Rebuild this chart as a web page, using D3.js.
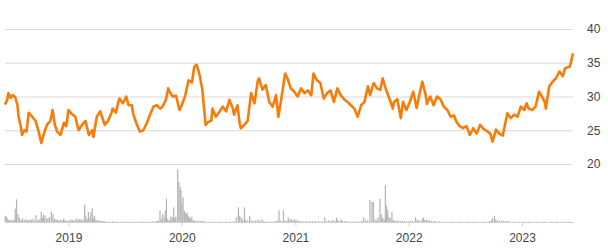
<!DOCTYPE html>
<html>
<head>
<meta charset="utf-8">
<script src="https://cdn.jsdelivr.net/npm/d3@7"></script>
<style>
  html, body { margin: 0; padding: 0; background: #fff; }
  #chart { width: 608px; height: 249px; }
  .axis text { font-family: "Liberation Sans", Arial, sans-serif; font-size: 12px; fill: #444; }
</style>
</head>
<body>
<div id="chart"></div>
<script>
// price series, dates as decimal years
const priceDates = [
  2018.44, 2018.46, 2018.47, 2018.49, 2018.51, 2018.53, 2018.55, 2018.56, 2018.58, 2018.59,
  2018.61, 2018.63, 2018.65, 2018.68, 2018.71, 2018.74, 2018.76, 2018.78, 2018.81, 2018.84,
  2018.86, 2018.88, 2018.90, 2018.93, 2018.96, 2018.98, 2019.00, 2019.03, 2019.06, 2019.09,
  2019.12, 2019.15, 2019.18, 2019.21, 2019.22, 2019.25, 2019.28, 2019.31, 2019.32, 2019.35,
  2019.38, 2019.39, 2019.42, 2019.44, 2019.45, 2019.48, 2019.51, 2019.53, 2019.56, 2019.57,
  2019.60, 2019.63, 2019.66, 2019.69, 2019.72, 2019.75, 2019.78, 2019.81, 2019.83, 2019.86,
  2019.88, 2019.89, 2019.92, 2019.95, 2019.98, 2020.00, 2020.03, 2020.06, 2020.09, 2020.11,
  2020.13, 2020.14, 2020.16, 2020.17, 2020.18, 2020.21, 2020.23, 2020.26, 2020.27, 2020.30,
  2020.33, 2020.36, 2020.39, 2020.42, 2020.45, 2020.46, 2020.49, 2020.51, 2020.52, 2020.55,
  2020.58, 2020.61, 2020.64, 2020.67, 2020.68, 2020.71, 2020.74, 2020.77, 2020.80, 2020.83,
  2020.85, 2020.87, 2020.91, 2020.93, 2020.96, 2020.99, 2021.02, 2021.05, 2021.08, 2021.11,
  2021.14, 2021.16, 2021.19, 2021.22, 2021.25, 2021.28, 2021.31, 2021.34, 2021.37, 2021.40,
  2021.43, 2021.46, 2021.49, 2021.52, 2021.55, 2021.58, 2021.61, 2021.64, 2021.66, 2021.69,
  2021.72, 2021.75, 2021.77, 2021.80, 2021.83, 2021.86, 2021.87, 2021.90, 2021.93, 2021.95,
  2021.98, 2022.01, 2022.04, 2022.07, 2022.10, 2022.12, 2022.15, 2022.16, 2022.19, 2022.22,
  2022.25, 2022.28, 2022.31, 2022.34, 2022.37, 2022.40, 2022.42, 2022.45, 2022.48, 2022.51,
  2022.54, 2022.57, 2022.60, 2022.63, 2022.66, 2022.68, 2022.72, 2022.74, 2022.77, 2022.80,
  2022.83, 2022.85, 2022.87, 2022.90, 2022.93, 2022.96, 2022.99, 2023.02, 2023.04, 2023.06,
  2023.09, 2023.12, 2023.15, 2023.17, 2023.20, 2023.21, 2023.24, 2023.27, 2023.30, 2023.33,
  2023.36, 2023.38, 2023.42, 2023.43, 2023.45
];
const priceValues = [
  28.8, 29.5, 30.5, 29.8, 30.2, 29.9, 28.7, 27.0, 25.5, 24.3,
  25.0, 24.8, 27.6, 27.0, 26.4, 24.6, 23.1, 24.3, 25.8, 26.4,
  28.0, 25.8, 24.8, 24.3, 26.1, 25.6, 28.0, 27.4, 27.0, 25.0,
  25.8, 26.4, 24.3, 25.0, 24.0, 27.0, 27.8, 26.3, 25.8, 26.4,
  27.6, 28.2, 27.6, 29.2, 29.7, 29.0, 30.0, 28.7, 28.7, 27.5,
  26.0, 24.8, 25.0, 26.0, 27.3, 28.5, 28.7, 28.2, 28.5, 29.5,
  31.2, 30.8, 30.0, 30.1, 28.0, 28.7, 30.1, 32.4, 32.1, 34.4,
  34.7, 34.2, 33.0, 32.0, 31.2, 25.8, 26.2, 26.4, 28.2, 27.0,
  27.7, 28.5, 27.8, 29.5, 28.2, 27.3, 28.7, 26.0, 25.3, 25.8,
  26.4, 30.5, 29.0, 32.4, 32.7, 31.0, 31.7, 29.2, 28.5, 30.2,
  27.0, 29.0, 33.4, 32.7, 31.2, 30.7, 30.0, 31.2, 30.5, 30.9,
  30.2, 33.4, 32.4, 32.0, 29.7, 30.5, 30.9, 29.2, 31.2, 30.2,
  29.6, 29.2, 28.7, 28.2, 27.0, 28.7, 29.2, 31.5, 30.2, 32.0,
  31.2, 31.0, 32.7, 31.0, 29.7, 28.2, 29.2, 29.6, 26.8, 29.2,
  28.0, 29.2, 30.7, 28.3, 30.7, 32.2, 30.2, 28.9, 30.0, 28.7,
  30.0, 29.6, 28.5, 28.0, 27.0, 27.2, 26.3, 25.6, 25.3, 25.6,
  24.3, 25.3, 24.5, 25.8, 25.2, 25.0, 24.5, 23.3, 25.1, 24.5,
  24.2, 25.8, 27.5, 26.8, 27.3, 27.0, 28.5, 28.0, 29.0, 28.2,
  28.0, 28.5, 30.7, 30.2, 29.2, 28.2, 31.5, 32.2, 32.7, 33.7,
  33.0, 34.2, 34.4, 34.9, 36.4
];

// volume bars, dates as decimal years
const volumeDates = [
  2018.441, 2018.450, 2018.458, 2018.467, 2018.480, 2018.494, 2018.507, 2018.520, 2018.531, 2018.542,
  2018.555, 2018.568, 2018.582, 2018.595, 2018.608, 2018.621, 2018.635, 2018.648, 2018.661, 2018.674,
  2018.687, 2018.701, 2018.714, 2018.727, 2018.740, 2018.749, 2018.760, 2018.771, 2018.780, 2018.793,
  2018.806, 2018.819, 2018.833, 2018.849, 2018.864, 2018.877, 2018.890, 2018.903, 2018.916, 2018.930,
  2018.943, 2018.956, 2018.969, 2018.982, 2018.996, 2019.009, 2019.022, 2019.035, 2019.048, 2019.062,
  2019.075, 2019.088, 2019.101, 2019.114, 2019.128, 2019.143, 2019.154, 2019.167, 2019.176, 2019.189,
  2019.198, 2019.210, 2019.220, 2019.229, 2019.242, 2019.255, 2019.269, 2019.282, 2019.295, 2019.313,
  2019.330, 2019.365, 2019.392, 2019.427, 2019.471, 2019.498, 2019.524, 2019.559, 2019.594, 2019.630,
  2019.656, 2019.691, 2019.718, 2019.744, 2019.762, 2019.779, 2019.793, 2019.808, 2019.819, 2019.832,
  2019.845, 2019.854, 2019.865, 2019.876, 2019.889, 2019.903, 2019.916, 2019.929, 2019.938, 2019.948,
  2019.964, 2019.975, 2019.985, 2019.993, 2020.002, 2020.011, 2020.022, 2020.030, 2020.039, 2020.048,
  2020.057, 2020.067, 2020.074, 2020.088, 2020.101, 2020.114, 2020.132, 2020.149, 2020.167, 2020.185,
  2020.202, 2020.246, 2020.290, 2020.334, 2020.387, 2020.422, 2020.458, 2020.480, 2020.499, 2020.510,
  2020.524, 2020.537, 2020.552, 2020.563, 2020.581, 2020.598, 2020.616, 2020.634, 2020.651, 2020.669,
  2020.686, 2020.704, 2020.722, 2020.739, 2020.775, 2020.810, 2020.827, 2020.845, 2020.856, 2020.871,
  2020.895, 2020.907, 2020.924, 2020.937, 2020.951, 2020.964, 2020.977, 2020.990, 2021.004, 2021.017,
  2021.030, 2021.048, 2021.074, 2021.100, 2021.127, 2021.153, 2021.180, 2021.206, 2021.233, 2021.259,
  2021.277, 2021.294, 2021.312, 2021.329, 2021.347, 2021.362, 2021.373, 2021.391, 2021.406, 2021.417,
  2021.435, 2021.453, 2021.479, 2021.506, 2021.532, 2021.558, 2021.585, 2021.602, 2021.620, 2021.638,
  2021.658, 2021.676, 2021.688, 2021.702, 2021.717, 2021.728, 2021.746, 2021.758, 2021.770, 2021.783,
  2021.794, 2021.805, 2021.816, 2021.827, 2021.836, 2021.852, 2021.864, 2021.875, 2021.893, 2021.911,
  2021.928, 2021.946, 2021.963, 2021.981, 2021.999, 2022.016, 2022.034, 2022.060, 2022.074, 2022.087,
  2022.104, 2022.119, 2022.131, 2022.144, 2022.157, 2022.170, 2022.184, 2022.201, 2022.219, 2022.236,
  2022.272, 2022.325, 2022.386, 2022.448, 2022.518, 2022.580, 2022.668, 2022.712, 2022.730, 2022.738,
  2022.756, 2022.769, 2022.783, 2022.800, 2022.818, 2022.835, 2022.853, 2022.871, 2022.888, 2022.932,
  2022.976, 2023.020, 2023.064, 2023.135, 2023.196, 2023.258, 2023.311, 2023.346, 2023.381, 2023.417
];
const volumeValues = [
  10, 12, 8, 5, 3, 4, 3, 5, 25, 43,
  15, 8, 4, 7, 3, 5, 4, 3, 5, 4,
  6, 3, 13, 3, 4, 6, 19, 8, 14, 12,
  6, 8, 9, 20, 15, 6, 5, 4, 3, 4,
  3, 6, 4, 2, 3, 2, 5, 4, 3, 5,
  6, 4, 6, 4, 5, 33, 12, 5, 19, 8,
  19, 26, 6, 12, 5, 3, 3, 2, 2, 2,
  1, 1, 1.5, 1, 1, 1.5, 1, 1, 1, 1,
  1, 1, 1, 1.5, 1, 2, 3, 22, 6, 15,
  9, 22, 44, 6, 4, 10, 9, 28, 8, 10,
  100, 76, 67, 60, 35, 47, 22, 19, 15, 17,
  12, 6, 9, 10, 4, 3, 2, 3, 2, 3,
  1, 1, 1, 1, 1, 1, 2, 9, 28, 12,
  8, 4, 28, 4, 3, 12, 3, 2, 3, 4,
  3, 5, 2, 1, 1, 1, 2, 3, 22, 3,
  22, 3, 2, 8, 4, 6, 3, 5, 4, 3,
  2, 2, 1.5, 2, 1.5, 2, 2, 1.5, 2, 9,
  2, 3, 2, 4, 2, 8, 4, 2, 5, 2,
  2, 1, 1, 1, 1, 1.5, 2, 9, 4, 3,
  42, 38, 38, 5, 3, 9, 44, 15, 8, 5,
  70, 31, 22, 9, 8, 19, 4, 3, 3, 3,
  2, 2, 2, 1.5, 1.5, 2, 2, 9, 4, 3,
  2, 6, 9, 4, 4, 3, 3, 2, 2, 1.5,
  1.5, 1, 1, 1, 1, 1, 1, 2, 3, 7,
  12, 5, 3, 3, 2, 3, 2, 2, 1, 1,
  1, 1, 1, 1, 1, 1, 1, 1, 1, 1
];

const priceTicks = [20, 25, 30, 35, 40];
const yearTicks = [2019, 2020, 2021, 2022, 2023];

const decToDate = (d) => {
  const y = Math.floor(d);
  const a = Date.UTC(y, 0, 1), b = Date.UTC(y + 1, 0, 1);
  return new Date(a + (d - y) * (b - a));
};

(() => {
  const W = 608, H = 249;
  const m = { left: 5, right: 35, top: 29, bottom: 27 };
  const plotR = W - m.right;
  const base = H - m.bottom;

  const svg = d3.select("#chart").append("svg").attr("width", W).attr("height", H);

  const price = priceDates.map((d, i) => ({ date: decToDate(d), v: priceValues[i] }));
  const vol = volumeDates.map((d, i) => ({ date: decToDate(d), v: volumeValues[i] }));

  const x = d3.scaleUtc()
    .domain(d3.extent(price, d => d.date))
    .range([m.left, plotR]);
  const y = d3.scaleLinear().domain([20, 40]).range([164, m.top]);
  const yv = d3.scaleLinear().domain([0, 110]).range([base, 164]);

  // price gridlines + right labels
  const ya = svg.append("g").attr("class", "axis")
    .attr("transform", `translate(${plotR},0)`)
    .call(d3.axisRight(y).tickValues(priceTicks).tickSize(-(plotR - m.left)).tickPadding(14));
  ya.select(".domain").remove();
  ya.selectAll(".tick line").attr("stroke", "#d9d9d9");

  // volume bars
  svg.append("g").selectAll("rect")
    .data(vol)
    .join("rect")
    .attr("x", d => x(d.date) - 0.6)
    .attr("width", 1.2)
    .attr("y", d => yv(d.v))
    .attr("height", d => base - yv(d.v))
    .attr("fill", "#b3b3b3");

  // bottom axis
  const xa = svg.append("g").attr("class", "axis")
    .attr("transform", `translate(0,${base})`)
    .call(d3.axisBottom(x)
      .tickValues(yearTicks.map(decToDate))
      .tickFormat(d3.utcFormat("%Y"))
      .tickSize(4).tickSizeOuter(0).tickPadding(7));
  xa.select(".domain").attr("stroke", "#d0d0d0");
  xa.selectAll(".tick line").attr("stroke", "#d0d0d0");

  // price line
  svg.append("path")
    .datum(price)
    .attr("fill", "none")
    .attr("stroke", "#f97b08")
    .attr("stroke-width", 2.6)
    .attr("stroke-linejoin", "round")
    .attr("d", d3.line().x(d => x(d.date)).y(d => y(d.v)));
})();
</script>
</body>
</html>
